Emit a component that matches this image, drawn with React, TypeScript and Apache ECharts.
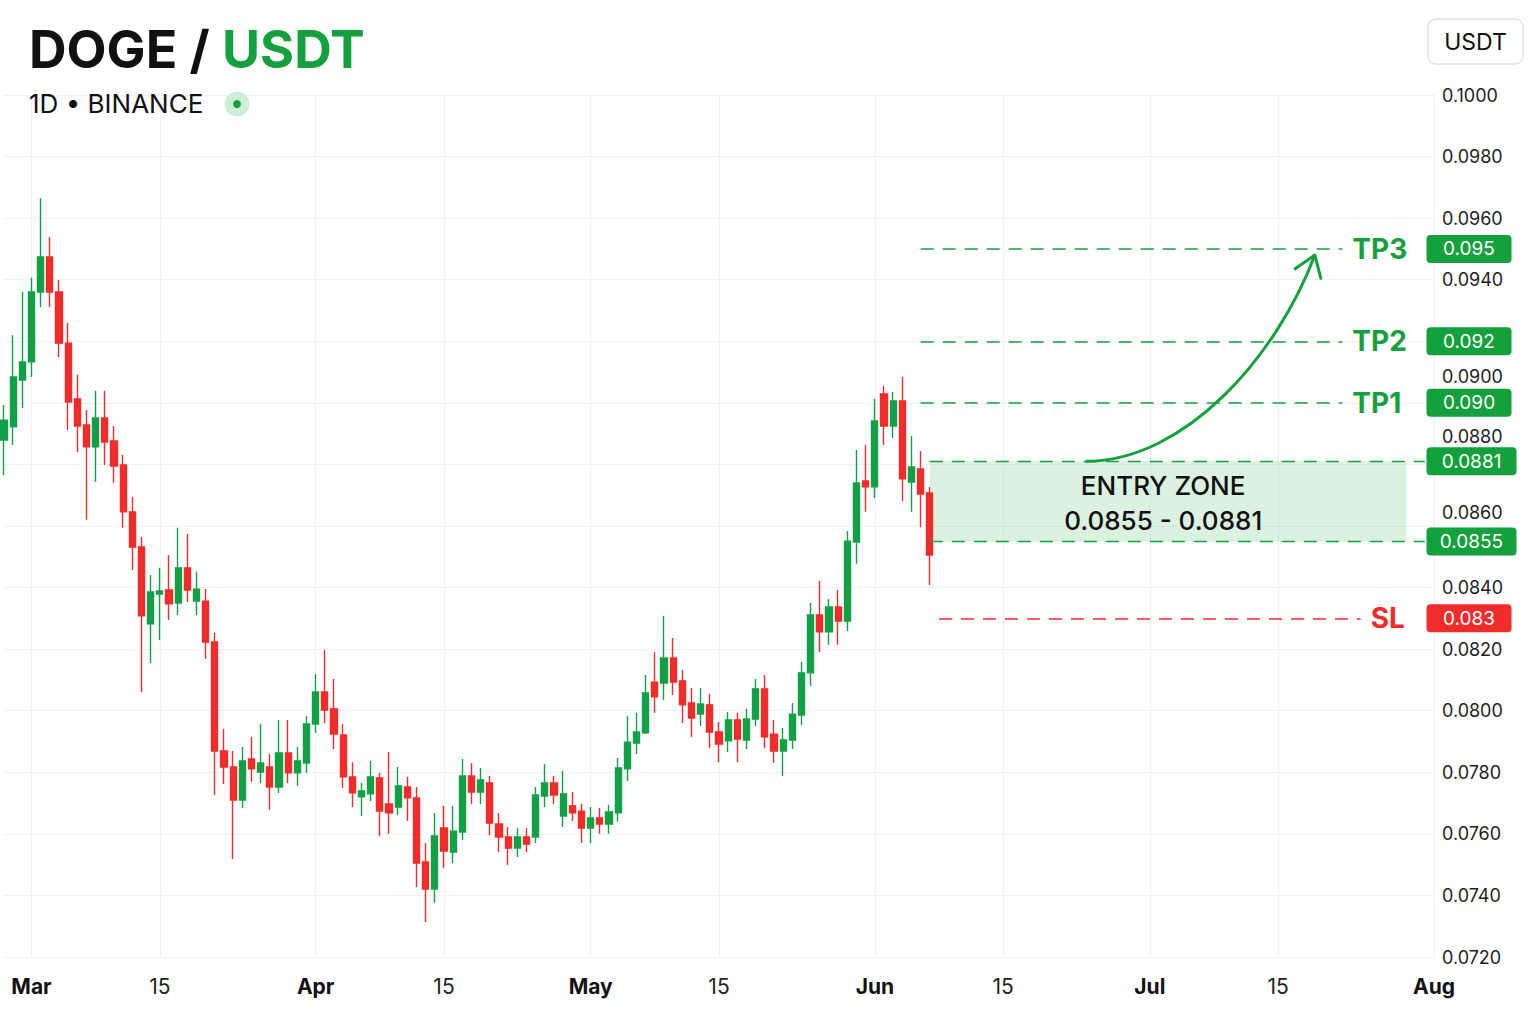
import React, { useEffect, useRef } from 'react';
import * as echarts from 'echarts';

// ---- data ----
const START_DATE = Date.UTC(2025, 1, 26); // first category: 2025-02-26
const DAY_COUNT = 157; // through 2025-08-01
const MONTH_NAMES = ['Jan', 'Feb', 'Mar', 'Apr', 'May', 'Jun', 'Jul', 'Aug', 'Sep', 'Oct', 'Nov', 'Dec'];

const openPrices = [
  0.08879, 0.08922, 0.09074, 0.09133, 0.09360, 0.09474, 0.09360, 0.09194, 0.09013, 0.08928,
  0.08857, 0.08951, 0.08876, 0.08798, 0.08646, 0.08532, 0.08282, 0.08379, 0.08392, 0.08350,
  0.08464, 0.08356, 0.08356, 0.08223, 0.07869, 0.07817, 0.07710, 0.07843, 0.07801, 0.07817,
  0.07752, 0.07863, 0.07798, 0.07830, 0.07957, 0.08061, 0.08006, 0.07921, 0.07785, 0.07720,
  0.07730, 0.07782, 0.07697, 0.07687, 0.07752, 0.07717, 0.07509, 0.07421, 0.07619, 0.07541,
  0.07606, 0.07788, 0.07736, 0.07765, 0.07632, 0.07590, 0.07554, 0.07590, 0.07590, 0.07723,
  0.07765, 0.07658, 0.07691, 0.07674, 0.07619, 0.07652, 0.07632, 0.07668, 0.07811, 0.07895,
  0.07928, 0.08093, 0.08090, 0.08171, 0.08097, 0.08025, 0.07989, 0.08019, 0.07931, 0.07902,
  0.07970, 0.07905, 0.07973, 0.08071, 0.07924, 0.07869, 0.07905, 0.07986, 0.08123, 0.08311,
  0.08256, 0.08337, 0.08291, 0.08548, 0.08746, 0.08727, 0.09029, 0.08925, 0.09006, 0.08743,
  0.08785, 0.08707,
];
const closePrices = [
  0.08944, 0.09084, 0.09133, 0.09360, 0.09474, 0.09360, 0.09194, 0.09003, 0.08925, 0.08857,
  0.08951, 0.08873, 0.08795, 0.08646, 0.08532, 0.08308, 0.08386, 0.08389, 0.08347, 0.08464,
  0.08392, 0.08395, 0.08223, 0.07869, 0.07817, 0.07710, 0.07837, 0.07811, 0.07830, 0.07752,
  0.07863, 0.07798, 0.07837, 0.07957, 0.08061, 0.08002, 0.07924, 0.07785, 0.07733, 0.07739,
  0.07785, 0.07674, 0.07668, 0.07756, 0.07717, 0.07505, 0.07421, 0.07593, 0.07544, 0.07609,
  0.07788, 0.07736, 0.07775, 0.07635, 0.07590, 0.07554, 0.07590, 0.07567, 0.07726, 0.07765,
  0.07726, 0.07730, 0.07668, 0.07619, 0.07652, 0.07632, 0.07671, 0.07814, 0.07898, 0.07931,
  0.08058, 0.08045, 0.08171, 0.08093, 0.08019, 0.07976, 0.08022, 0.07931, 0.07892, 0.07970,
  0.07908, 0.07973, 0.08071, 0.07915, 0.07869, 0.07905, 0.07989, 0.08123, 0.08311, 0.08256,
  0.08337, 0.08291, 0.08551, 0.08740, 0.08727, 0.08941, 0.08925, 0.09006, 0.08753, 0.08792,
  0.08704, 0.08506,
];
const lowPrices = [
  0.08766, 0.08863, 0.08983, 0.09084, 0.09311, 0.09311, 0.09149, 0.08912, 0.08840, 0.08620,
  0.08743, 0.08798, 0.08740, 0.08594, 0.08457, 0.08061, 0.08155, 0.08230, 0.08295, 0.08311,
  0.08353, 0.08311, 0.08168, 0.07726, 0.07762, 0.07518, 0.07684, 0.07769, 0.07765, 0.07678,
  0.07733, 0.07765, 0.07756, 0.07798, 0.07928, 0.07960, 0.07876, 0.07749, 0.07687, 0.07658,
  0.07707, 0.07593, 0.07600, 0.07661, 0.07642, 0.07427, 0.07314, 0.07376, 0.07489, 0.07505,
  0.07580, 0.07697, 0.07697, 0.07596, 0.07541, 0.07499, 0.07525, 0.07541, 0.07570, 0.07687,
  0.07697, 0.07622, 0.07642, 0.07570, 0.07570, 0.07600, 0.07600, 0.07639, 0.07772, 0.07859,
  0.07924, 0.07993, 0.08035, 0.08051, 0.07960, 0.07915, 0.07950, 0.07879, 0.07833, 0.07866,
  0.07833, 0.07876, 0.07950, 0.07879, 0.07830, 0.07788, 0.07876, 0.07954, 0.08080, 0.08191,
  0.08214, 0.08214, 0.08259, 0.08477, 0.08646, 0.08691, 0.08863, 0.08886, 0.08681, 0.08646,
  0.08597, 0.08408,
];
const highPrices = [
  0.08993, 0.09220, 0.09360, 0.09406, 0.09665, 0.09539, 0.09399, 0.09259, 0.09091, 0.08977,
  0.09039, 0.09039, 0.08925, 0.08831, 0.08694, 0.08564, 0.08441, 0.08464, 0.08506, 0.08594,
  0.08574, 0.08451, 0.08395, 0.08253, 0.07941, 0.07869, 0.07882, 0.07915, 0.07957, 0.07859,
  0.07970, 0.07970, 0.07882, 0.07983, 0.08119, 0.08197, 0.08103, 0.07957, 0.07833, 0.07765,
  0.07837, 0.07798, 0.07866, 0.07817, 0.07785, 0.07752, 0.07570, 0.07668, 0.07691, 0.07691,
  0.07843, 0.07830, 0.07814, 0.07788, 0.07668, 0.07622, 0.07619, 0.07619, 0.07752, 0.07827,
  0.07788, 0.07804, 0.07736, 0.07697, 0.07687, 0.07684, 0.07694, 0.07846, 0.07983, 0.07993,
  0.08116, 0.08191, 0.08308, 0.08236, 0.08132, 0.08074, 0.08074, 0.08054, 0.07963, 0.07996,
  0.07993, 0.08006, 0.08103, 0.08116, 0.07970, 0.07944, 0.08025, 0.08158, 0.08350, 0.08421,
  0.08363, 0.08392, 0.08584, 0.08847, 0.08863, 0.09013, 0.09055, 0.09035, 0.09084, 0.08892,
  0.08844, 0.08727,
];

const targetNames = ['TP3', 'TP2', 'TP1'];
const targetValues = [0.095, 0.092, 0.09];
const targetBadges = ['0.095', '0.092', '0.090'];
const entryLow = 0.0855;
const entryHigh = 0.0881;
const entryBadges = ['0.0881', '0.0855'];
const stopLoss = 0.083;
const stopBadge = '0.083';

const targetStart = '2025-06-06';
const targetEnd = '2025-07-22';
const stopStart = '2025-06-08';
const stopEnd = '2025-07-24';
const zoneStart = '2025-06-07';
const zoneEnd = '2025-07-29';
const zoneLineEnd = '2025-07-31';
const badgeDate = '2025-08-01';

const arrowDates = ['2025-06-24', '2025-07-05', '2025-07-15', '2025-07-19'];
const arrowValues = [0.0881, 0.0881, 0.0916, 0.0948];

const yMin = 0.072;
const yMax = 0.1;
const yStep = 0.002;
// axis labels that sit next to a price badge: raised (px) or hidden under it
const raisedLabels: Record<string, number> = { '0.0900': 26, '0.0880': 28, '0.0860': 14 };
const hiddenLabels = ['0.0920'];

// ---- styles ----
const GREEN = '#14a03c';
const CANDLE_GREEN = '#12a046';
const RED = '#f22b2b';
const FONT = 'Inter, "Noto Sans", Roboto, sans-serif';

const dates: string[] = Array.from({ length: DAY_COUNT }, (_, i) =>
  new Date(START_DATE + i * 86400000).toISOString().slice(0, 10)
);
const dayOf = (d: string) => Number(d.slice(8, 10));
const isTickDay = (d: string) => dayOf(d) === 1 || dayOf(d) === 15;

const badgePath = (w: number, h: number, r: number) =>
  `path://M${r},0H${w - r}A${r},${r} 0 0 1 ${w},${r}V${h - r}A${r},${r} 0 0 1 ${w - r},${h}H${r}A${r},${r} 0 0 1 0,${h - r}V${r}A${r},${r} 0 0 1 ${r},0Z`;

export default function App() {
  const ref = useRef<HTMLDivElement>(null);

  useEffect(() => {
    document.body.style.margin = '0';
    if (!ref.current) return;
    const chart = echarts.init(ref.current, null, { renderer: 'svg' });

    const candles = openPrices.map((o, i) => [o, closePrices[i], lowPrices[i], highPrices[i]]);

    const dash = [13, 9];
    const levelLines: any[] = targetValues.map((v, i) => [
      {
        coord: [targetStart, v],
        lineStyle: { color: GREEN, width: 1.6, type: dash },
        label: {
          show: true,
          position: 'end',
          distance: 10,
          formatter: targetNames[i],
          color: GREEN,
          fontSize: 28,
          fontWeight: 'bold',
          fontFamily: FONT,
        },
      },
      { coord: [targetEnd, v] },
    ]);
    levelLines.push([
      {
        coord: [stopStart, stopLoss],
        lineStyle: { color: RED, width: 1.6, type: dash },
        label: {
          show: true,
          position: 'end',
          distance: 10,
          formatter: 'SL',
          color: RED,
          fontSize: 28,
          fontWeight: 'bold',
          fontFamily: FONT,
        },
      },
      { coord: [stopEnd, stopLoss] },
    ]);
    [entryHigh, entryLow].forEach((v) => {
      levelLines.push([
        { coord: [zoneStart, v], lineStyle: { color: GREEN, width: 1.4, type: dash }, label: { show: false } },
        { coord: [zoneLineEnd, v] },
      ]);
    });

    const badge = (value: number, text: string, color: string, w: number) => ({
      coord: [badgeDate, value],
      symbol: badgePath(w, 28, 4),
      symbolSize: [w, 28],
      symbolKeepAspect: false,
      symbolOffset: [35 + (w - 85) / 2, 0],
      itemStyle: { color },
      label: {
        show: true,
        position: 'inside',
        formatter: text,
        color: '#ffffff',
        fontSize: 19,
        fontFamily: FONT,
      },
    });
    const badges = [
      ...targetValues.map((v, i) => badge(v, targetBadges[i], GREEN, 85)),
      badge(entryHigh, entryBadges[0], GREEN, 90),
      badge(entryLow, entryBadges[1], GREEN, 90),
      badge(stopLoss, stopBadge, RED, 85),
    ];

    const option: any = {
      animation: false,
      backgroundColor: '#ffffff',
      textStyle: { fontFamily: FONT },
      title: [
        {
          text: '{a|DOGE / }{b|USDT}',
          left: 29,
          top: 23,
          padding: 0,
          textStyle: {
            rich: {
              a: { fontSize: 52, fontWeight: 'bold', color: '#111111', fontFamily: FONT },
              b: { fontSize: 52, fontWeight: 'bold', color: GREEN, fontFamily: FONT },
            },
          },
        },
        {
          text: '1D • BINANCE',
          left: 29,
          top: 90,
          padding: 0,
          textStyle: { fontSize: 26, fontWeight: 'normal', color: '#111111', fontFamily: FONT },
        },
      ],
      grid: { left: 4, right: 102, top: 95, bottom: 67 },
      xAxis: {
        type: 'category',
        data: dates,
        boundaryGap: false,
        axisLine: { show: false },
        axisTick: { show: false },
        axisLabel: {
          interval: (_i: number, v: string) => isTickDay(v),
          margin: 19,
          formatter: (v: string) => {
            const d = dayOf(v);
            const m = Number(v.slice(5, 7));
            return d === 1 ? `{m|${MONTH_NAMES[m - 1]}}` : `{d|${d}}`;
          },
          rich: {
            m: { fontSize: 21, fontWeight: 'bold', color: '#111111', fontFamily: FONT },
            d: { fontSize: 21, fontWeight: 'normal', color: '#222222', fontFamily: FONT },
          },
        },
        splitLine: {
          show: true,
          interval: (_i: number, v: string) => isTickDay(v),
          lineStyle: { color: '#f1f1f1', width: 1 },
        },
      },
      yAxis: {
        type: 'value',
        position: 'right',
        min: yMin,
        max: yMax,
        interval: yStep,
        axisLine: { show: false },
        axisTick: { show: false },
        axisLabel: {
          margin: 8,
          fontSize: 18,
          color: '#1e1e1e',
          fontFamily: FONT,
          formatter: (v: number) => {
            const s = v.toFixed(4);
            if (hiddenLabels.includes(s)) return '';
            if (raisedLabels[s]) return `{up${raisedLabels[s]}|${s}}`;
            return s;
          },
          rich: Object.fromEntries(
            Object.values(raisedLabels).map((shift) => [
              `up${shift}`,
              { fontSize: 18, color: '#1e1e1e', fontFamily: FONT, padding: [0, 0, shift * 2, 0] },
            ])
          ),
        },
        splitLine: { lineStyle: { color: '#f1f1f1', width: 1 } },
      },
      series: [
        {
          type: 'candlestick',
          data: candles,
          barWidth: 6.8,
          clip: false,
          itemStyle: {
            color: CANDLE_GREEN,
            color0: RED,
            borderColor: CANDLE_GREEN,
            borderColor0: RED,
            borderWidth: 1.4,
          },
          markArea: {
            silent: true,
            data: [
              [
                {
                  coord: [zoneStart, entryLow],
                  itemStyle: { color: 'rgba(40, 175, 75, 0.17)' },
                  label: {
                    show: true,
                    position: 'inside',
                    offset: [-5, 2],
                    formatter: `ENTRY ZONE\n${entryLow.toFixed(4)} - ${entryHigh.toFixed(4)}`,
                    fontSize: 26,
                    lineHeight: 35,
                    fontWeight: 500,
                    color: '#111111',
                    fontFamily: FONT,
                    align: 'center',
                  },
                },
                { coord: [zoneEnd, entryHigh] },
              ],
            ],
          },
          markLine: {
            silent: true,
            symbol: ['none', 'none'],
            data: levelLines,
          },
          markPoint: {
            silent: true,
            data: badges,
          },
        },
      ],
    };

    chart.setOption(option);

    const pt = (d: string, v: number) => chart.convertToPixel({ gridIndex: 0 }, [d, v]) as number[];
    const p = arrowDates.map((d, i) => pt(d, arrowValues[i]));
    const [p0, c1, c2, p3] = p;
    const bx = c2[0] - p3[0];
    const by = c2[1] - p3[1];
    const bl = Math.hypot(bx, by) || 1;
    const ux = bx / bl;
    const uy = by / bl;
    const arm = 24;
    const rot = (ang: number) => {
      const ca = Math.cos(ang);
      const sa = Math.sin(ang);
      return [p3[0] + arm * (ux * ca - uy * sa), p3[1] + arm * (ux * sa + uy * ca)];
    };
    const a1 = rot((35 * Math.PI) / 180);
    const a2 = rot((-35 * Math.PI) / 180);

    chart.setOption({
      graphic: [
        { type: 'circle', shape: { cx: 237, cy: 104, r: 12.5 }, style: { fill: '#cdeed5' } },
        { type: 'circle', shape: { cx: 237, cy: 104, r: 4 }, style: { fill: GREEN } },
        {
          type: 'rect',
          shape: { x: 1428, y: 19, width: 95, height: 45, r: 8 },
          style: { fill: '#ffffff', stroke: '#e2e2e2', lineWidth: 1.5 },
        },
        {
          type: 'text',
          x: 1475.5,
          y: 42,
          style: {
            text: 'USDT',
            align: 'center',
            verticalAlign: 'middle',
            fontSize: 23,
            fill: '#111111',
            fontFamily: FONT,
          },
        },
        {
          type: 'bezierCurve',
          z: 10,
          shape: {
            x1: p0[0],
            y1: p0[1],
            cpx1: c1[0],
            cpy1: c1[1],
            cpx2: c2[0],
            cpy2: c2[1],
            x2: p3[0],
            y2: p3[1],
          },
          style: { stroke: GREEN, lineWidth: 3, fill: null },
        },
        {
          type: 'polyline',
          z: 10,
          shape: { points: [a1, [p3[0], p3[1]], a2] },
          style: { stroke: GREEN, lineWidth: 3, fill: null, lineJoin: 'round', lineCap: 'round' },
        },
      ],
    });

    return () => chart.dispose();
  }, []);

  return (
    <div
      ref={ref}
      style={{ position: 'fixed', left: 0, top: 0, width: 1536, height: 1024, background: '#ffffff' }}
    />
  );
}
